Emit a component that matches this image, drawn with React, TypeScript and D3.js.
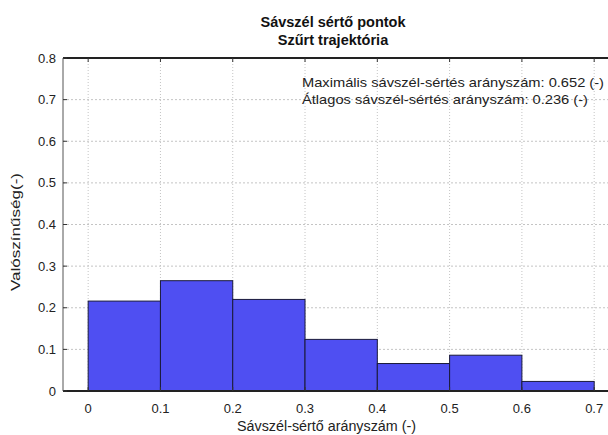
import React from "react";
import * as d3 from "d3";

const binStarts = [0, 0.1, 0.2, 0.3, 0.4, 0.5, 0.6];
const binWidth = 0.1;
const probabilities = [0.216, 0.265, 0.22, 0.124, 0.066, 0.086, 0.023];
const xTicks = [0, 0.1, 0.2, 0.3, 0.4, 0.5, 0.6, 0.7];
const yTicks = [0, 0.1, 0.2, 0.3, 0.4, 0.5, 0.6, 0.7, 0.8];
const titleLines = ["Sávszél sértő pontok", "Szűrt trajektória"];
const annotations = [
  "Maximális sávszél-sértés arányszám: 0.652 (-)",
  "Átlagos sávszél-sértés arányszám: 0.236 (-)",
];
const xLabel = "Sávszél-sértő arányszám (-)";
const yLabel = "Valószínűség(-)";

const W = 608;
const H = 435;
const left = 63;
const top = 58;
const bottom = 391;
const font = "Liberation Sans, Arial, sans-serif";

export default function App() {
  const x = d3.scaleLinear().domain([-0.0348, 0.76]).range([left, left + 0.7948 * 722.9]);
  const y = d3.scaleLinear().domain([0, 0.8]).range([bottom, top]);
  const fmt = (v: number) => (v === 0 ? "0" : d3.format(".1f")(v));
  return (
    <div>
      <style>{`body{margin:0}`}</style>
      <svg width={W} height={H} style={{ display: "block", background: "#fff" }} fontFamily={font}>
        <rect x={0} y={0} width={W} height={H} fill="#fff" />
        {/* grid */}
        {xTicks.map((t) => (
          <line key={"gx" + t} x1={x(t)} x2={x(t)} y1={top} y2={bottom} stroke="#c4c4c4" strokeWidth={1} strokeDasharray="1,2" />
        ))}
        {yTicks.slice(1, -1).map((t) => (
          <line key={"gy" + t} x1={left} x2={W} y1={y(t)} y2={y(t)} stroke="#c4c4c4" strokeWidth={1} strokeDasharray="2,2" />
        ))}
        {/* bars */}
        {probabilities.map((p, i) => (
          <rect
            key={"b" + i}
            x={x(binStarts[i])}
            y={y(p)}
            width={x(binStarts[i] + binWidth) - x(binStarts[i])}
            height={y(0) - y(p)}
            fill="#4f4ff2"
            stroke="#1a1a3a"
            strokeWidth={1}
          />
        ))}
        {/* axes frame */}
        <line x1={left} x2={W} y1={bottom} y2={bottom} stroke="#222" strokeWidth={1.8} />
        <line x1={left} x2={W} y1={top} y2={top} stroke="#222" strokeWidth={1.8} />
        <line x1={left} x2={left} y1={top} y2={bottom} stroke="#555" strokeWidth={1} />
        {/* x ticks */}
        {xTicks.map((t) => (
          <g key={"xt" + t}>
            <line x1={x(t)} x2={x(t)} y1={bottom} y2={bottom - 4} stroke="#333" />
            <line x1={x(t)} x2={x(t)} y1={top} y2={top + 4} stroke="#333" />
            <text x={x(t)} y={413} fontSize={13} textAnchor="middle" fill="#222">
              {fmt(t)}
            </text>
          </g>
        ))}
        {/* y ticks */}
        {yTicks.map((t) => (
          <g key={"yt" + t}>
            <line x1={left} x2={left + 4} y1={y(t)} y2={y(t)} stroke="#333" />
            <text x={56} y={y(t) + 4.5} fontSize={13} textAnchor="end" fill="#222">
              {fmt(t)}
            </text>
          </g>
        ))}
        {/* titles */}
        {titleLines.map((s, i) => (
          <text key={"t" + i} x={333} y={27 + i * 18} fontSize={14.5} fontWeight="bold" textAnchor="middle" fill="#111">
            {s}
          </text>
        ))}
        {annotations.map((s, i) => (
          <text
            key={"a" + i}
            x={302}
            y={87 + i * 17}
            fontSize={13.5}
            fill="#222"
            textLength={i === 0 ? 302 : 286}
            lengthAdjust="spacingAndGlyphs"
          >
            {s}
          </text>
        ))}
        <text x={326.5} y={431} fontSize={14} textAnchor="middle" fill="#222" textLength={179} lengthAdjust="spacingAndGlyphs">
          {xLabel}
        </text>
        <text
          transform={`translate(20,232) rotate(-90)`}
          fontSize={13.5}
          textAnchor="middle"
          fill="#222"
          textLength={118}
          lengthAdjust="spacingAndGlyphs"
        >
          {yLabel}
        </text>
      </svg>
    </div>
  );
}
